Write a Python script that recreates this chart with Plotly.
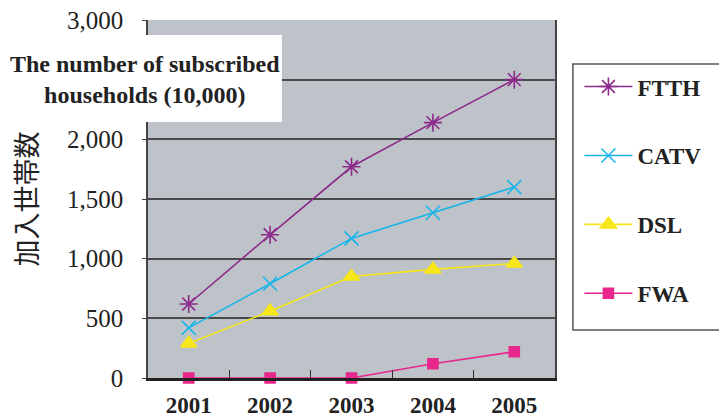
import plotly.graph_objects as go

years = ["2001", "2002", "2003", "2004", "2005"]
ftth = [620, 1200, 1770, 2140, 2500]
catv = [420, 790, 1170, 1385, 1600]
dsl = [290, 560, 850, 910, 960]
fwa = [0, 0, 0, 120, 220]

y_ticks = [0, 500, 1000, 1500, 2000, 2500, 3000]
y_tick_text = ["0", "500", "1,000", "1,500", "2,000", "", "3,000"]

series = [
    ("FTTH", ftth, "#8c2b8c", "asterisk-open", 15),
    ("CATV", catv, "#19b5ea", "x-thin-open", 14),
    ("DSL", dsl, "#f7e619", "triangle-up", 14),
    ("FWA", fwa, "#e8268c", "square", 10),
]

SERIF = "Liberation Serif, Times New Roman, serif"

fig = go.Figure()
for name, vals, color, sym, size in series:
    fig.add_trace(go.Scatter(
        x=years, y=vals, name=name, mode="lines+markers",
        legendgroup=name,
        line=dict(color=color, width=1.6),
        marker=dict(symbol=sym, size=size, color=color,
                    line=dict(color=color, width=1.6)),
        cliponaxis=False,
    ))

fig.update_layout(
    width=719, height=419,
    margin=dict(l=148, r=164, t=20, b=41),
    paper_bgcolor="white",
    plot_bgcolor="#bec2c9",
    showlegend=True,
    legend=dict(
        x=1.06, y=0.874, xanchor="left", yanchor="top",
        bgcolor="rgba(0,0,0,0)", borderwidth=0,
        font=dict(family=SERIF, size=23, color="#222", weight="bold"),
        tracegroupgap=36, itemwidth=48,
    ),
    xaxis=dict(
        type="category", tickson="boundaries", ticks="inside",
        ticklen=8, tickcolor="#333", tickwidth=1.2,
        showgrid=False, showline=True, linecolor="#222", linewidth=2.5,
        tickfont=dict(family=SERIF, size=23, color="#222", weight="bold"),
        ticklabelstandoff=5, range=[-0.5, 4.5], automargin=False,
    ),
    yaxis=dict(
        range=[0, 3000], tickvals=y_ticks, ticktext=y_tick_text,
        showgrid=True, gridcolor="#4a4a4a", gridwidth=1.5,
        showline=True, mirror=True, linecolor="#444", linewidth=1.5,
        ticks="outside", ticklen=4, tickcolor="#444",
        zeroline=False, automargin=False,
        tickfont=dict(family=SERIF, size=25, color="#222"),
        ticklabelstandoff=14,
        title=dict(text="加入世帯数", standoff=22,
                   font=dict(family="Noto Sans CJK JP", size=27, color="#222")),
    ),
    shapes=[
        dict(type="rect", xref="paper", yref="paper",
             x0=-0.364, x1=0.329, y0=0.715, y1=0.958,
             fillcolor="white", line=dict(width=0), layer="above"),
        dict(type="rect", xref="paper", yref="paper",
             x0=1.044, x1=1.41, y0=0.134, y1=0.877,
             fillcolor="rgba(0,0,0,0)", line=dict(color="#555", width=1.5)),
    ],
    annotations=[
        dict(xref="paper", yref="paper", x=-0.007, y=0.835,
             xanchor="center", yanchor="middle",
             text="The number of subscribed<br>households (10,000)",
             showarrow=False, align="center",
             font=dict(family=SERIF, size=24, color="#222", weight="bold")),
    ],
)

fig.write_html("out.html")
